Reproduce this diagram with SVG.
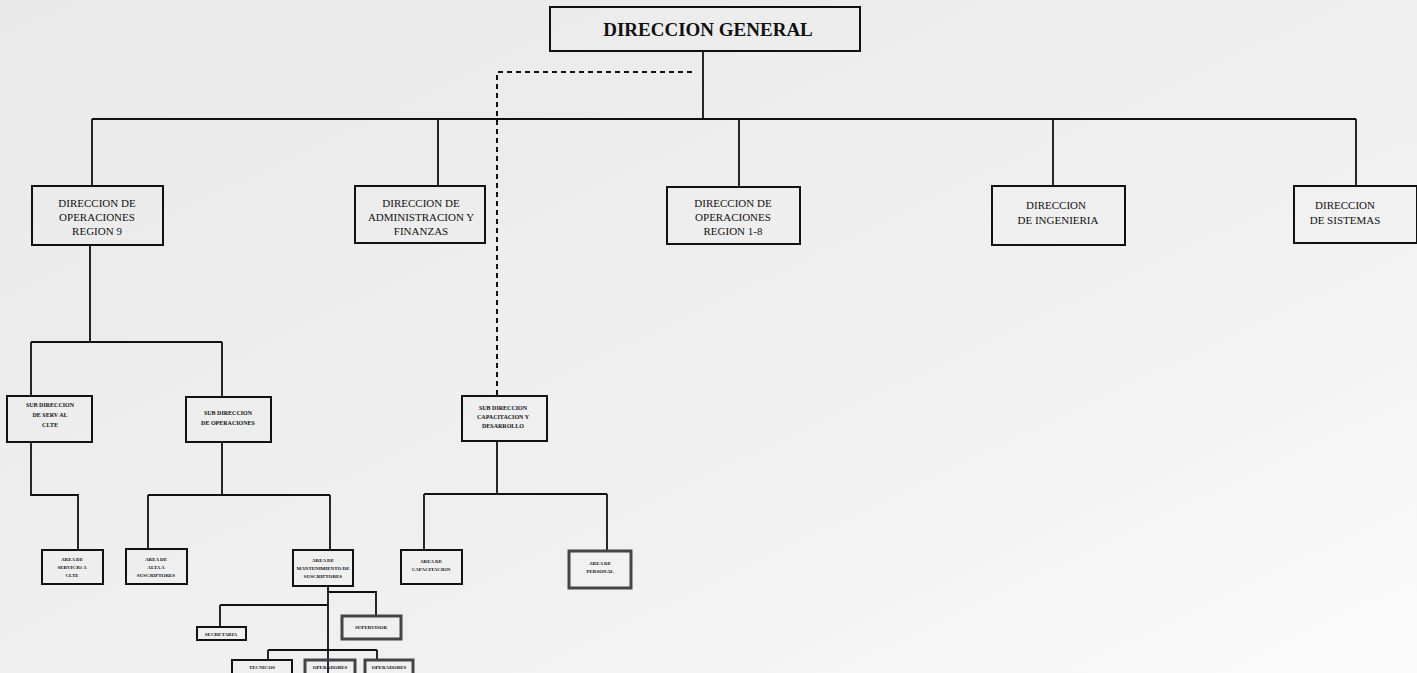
<svg xmlns="http://www.w3.org/2000/svg" width="1417" height="673" viewBox="0 0 1417 673">
<defs>
<linearGradient id="bg" x1="0" y1="0" x2="1" y2="1">
<stop offset="0" stop-color="#e9e9e9"/>
<stop offset="0.6" stop-color="#f0f0f0"/>
<stop offset="1" stop-color="#fbfbfb"/>
</linearGradient>
<style>
.box{fill:none;stroke:#111;stroke-width:2}
.gbox{fill:none;stroke:#444;stroke-width:3}
.ln{fill:none;stroke:#111;stroke-width:1.8}
.dash{fill:none;stroke:#111;stroke-width:2;stroke-dasharray:5 4}
.t1{font-family:"Liberation Serif",serif;font-size:19px;font-weight:bold;fill:#111;text-anchor:middle}
.t2{font-family:"Liberation Serif",serif;font-size:11px;fill:#111;text-anchor:middle}
.t3{font-family:"Liberation Serif",serif;font-size:6px;font-weight:bold;fill:#111;text-anchor:middle}
.t4{font-family:"Liberation Serif",serif;font-size:5px;font-weight:bold;fill:#111;text-anchor:middle}
</style>
</defs>
<rect width="1417" height="673" fill="url(#bg)"/>

<g id="connectors">
<path class="ln" d="M703 51V119M92 119H1356M92 119V186M438 119V186M739 119V187M1053 119V186M1356 119V186"/>
<path class="dash" d="M692 72H497V396"/>
<path class="ln" d="M90 245V342M31 342H222M31 342V396M222 342V397"/>
<path class="ln" d="M31 442V495H78V550"/>
<path class="ln" d="M222 442V495M148 495H330M148 495V549M330 495V550"/>
<path class="ln" d="M497 441V494M424 494H607M424 494V550M607 494V551"/>
<path class="ln" d="M328 586V673M220 605H328M220 605V627M328 592H376V616M268 650H377M268 650V660M377 650V660"/>
</g>

<g id="n-direccion-general">
<rect class="box" x="550" y="7" width="310" height="44"/>
<text class="t1" x="708" y="36">DIRECCION GENERAL</text>
</g>

<g id="n-dir-op-region9">
<rect class="box" x="32" y="186" width="131" height="59"/>
<text class="t2" x="97" y="207">DIRECCION DE</text>
<text class="t2" x="97" y="221">OPERACIONES</text>
<text class="t2" x="97" y="235">REGION 9</text>
</g>

<g id="n-dir-admin">
<rect class="box" x="355" y="186" width="130" height="57"/>
<text class="t2" x="421" y="207">DIRECCION DE</text>
<text class="t2" x="421" y="221">ADMINISTRACION Y</text>
<text class="t2" x="421" y="235">FINANZAS</text>
</g>

<g id="n-dir-op-region18">
<rect class="box" x="667" y="187" width="133" height="57"/>
<text class="t2" x="733" y="207">DIRECCION DE</text>
<text class="t2" x="733" y="221">OPERACIONES</text>
<text class="t2" x="733" y="235">REGION 1-8</text>
</g>

<g id="n-dir-ingenieria">
<rect class="box" x="992" y="186" width="133" height="59"/>
<text class="t2" x="1056" y="209">DIRECCION</text>
<text class="t2" x="1058" y="224">DE INGENIERIA</text>
</g>

<g id="n-dir-sistemas">
<rect class="box" x="1294" y="186" width="123" height="57"/>
<text class="t2" x="1345" y="209">DIRECCION</text>
<text class="t2" x="1345" y="224">DE SISTEMAS</text>
</g>

<g id="n-sub-serv">
<rect class="box" x="7" y="396" width="85" height="46"/>
<text class="t3" x="50" y="407">SUB DIRECCION</text>
<text class="t3" x="50" y="417">DE SERV AL</text>
<text class="t3" x="50" y="427">CLTE</text>
</g>

<g id="n-sub-oper">
<rect class="box" x="186" y="397" width="85" height="45"/>
<text class="t3" x="228" y="415">SUB DIRECCION</text>
<text class="t3" x="228" y="425">DE OPERACIONES</text>
</g>

<g id="n-sub-cap">
<rect class="box" x="462" y="396" width="85" height="45"/>
<text class="t3" x="503" y="410">SUB DIRECCION</text>
<text class="t3" x="503" y="419">CAPACITACION Y</text>
<text class="t3" x="503" y="428">DESARROLLO</text>
</g>

<g id="n-area-serv">
<rect class="box" x="42" y="550" width="61" height="34"/>
<text class="t4" x="72" y="561">AREA DE</text>
<text class="t4" x="72" y="569">SERVICIO A</text>
<text class="t4" x="72" y="577">CLTE</text>
</g>

<g id="n-area-alta">
<rect class="box" x="126" y="549" width="61" height="35"/>
<text class="t4" x="156" y="561">AREA DE</text>
<text class="t4" x="156" y="569">ALTA A</text>
<text class="t4" x="156" y="577">SUSCRIPTORES</text>
</g>

<g id="n-area-mant">
<rect class="box" x="293" y="550" width="60" height="36"/>
<text class="t4" x="323" y="562">AREA DE</text>
<text class="t4" x="323" y="570">MANTENIMIENTO DE</text>
<text class="t4" x="323" y="578">SUSCRIPTORES</text>
</g>

<g id="n-area-cap">
<rect class="box" x="401" y="550" width="61" height="34"/>
<text class="t4" x="431" y="563">AREA DE</text>
<text class="t4" x="431" y="571">CAPACITACION</text>
</g>

<g id="n-area-pers">
<rect class="gbox" x="569" y="551" width="62" height="37"/>
<text class="t4" x="600" y="565">AREA DE</text>
<text class="t4" x="600" y="573">PERSONAL</text>
</g>

<g id="n-secretaria">
<rect class="box" x="197" y="627" width="49" height="13"/>
<text class="t4" x="221" y="636">SECRETARIA</text>
</g>

<g id="n-supervisor">
<rect class="gbox" x="342" y="616" width="59" height="23"/>
<text class="t4" x="371" y="629">SUPERVISOR</text>
</g>

<g id="n-tecnicos">
<rect class="box" x="232" y="660" width="60" height="20"/>
<text class="t4" x="262" y="669">TECNICOS</text>
</g>

<g id="n-operador1">
<rect class="gbox" x="305" y="660" width="50" height="20"/>
<text class="t4" x="330" y="669">OPERADORES</text>
</g>

<g id="n-operador2">
<rect class="gbox" x="365" y="660" width="48" height="20"/>
<text class="t4" x="389" y="669">OPERADORES</text>
</g>
</svg>
